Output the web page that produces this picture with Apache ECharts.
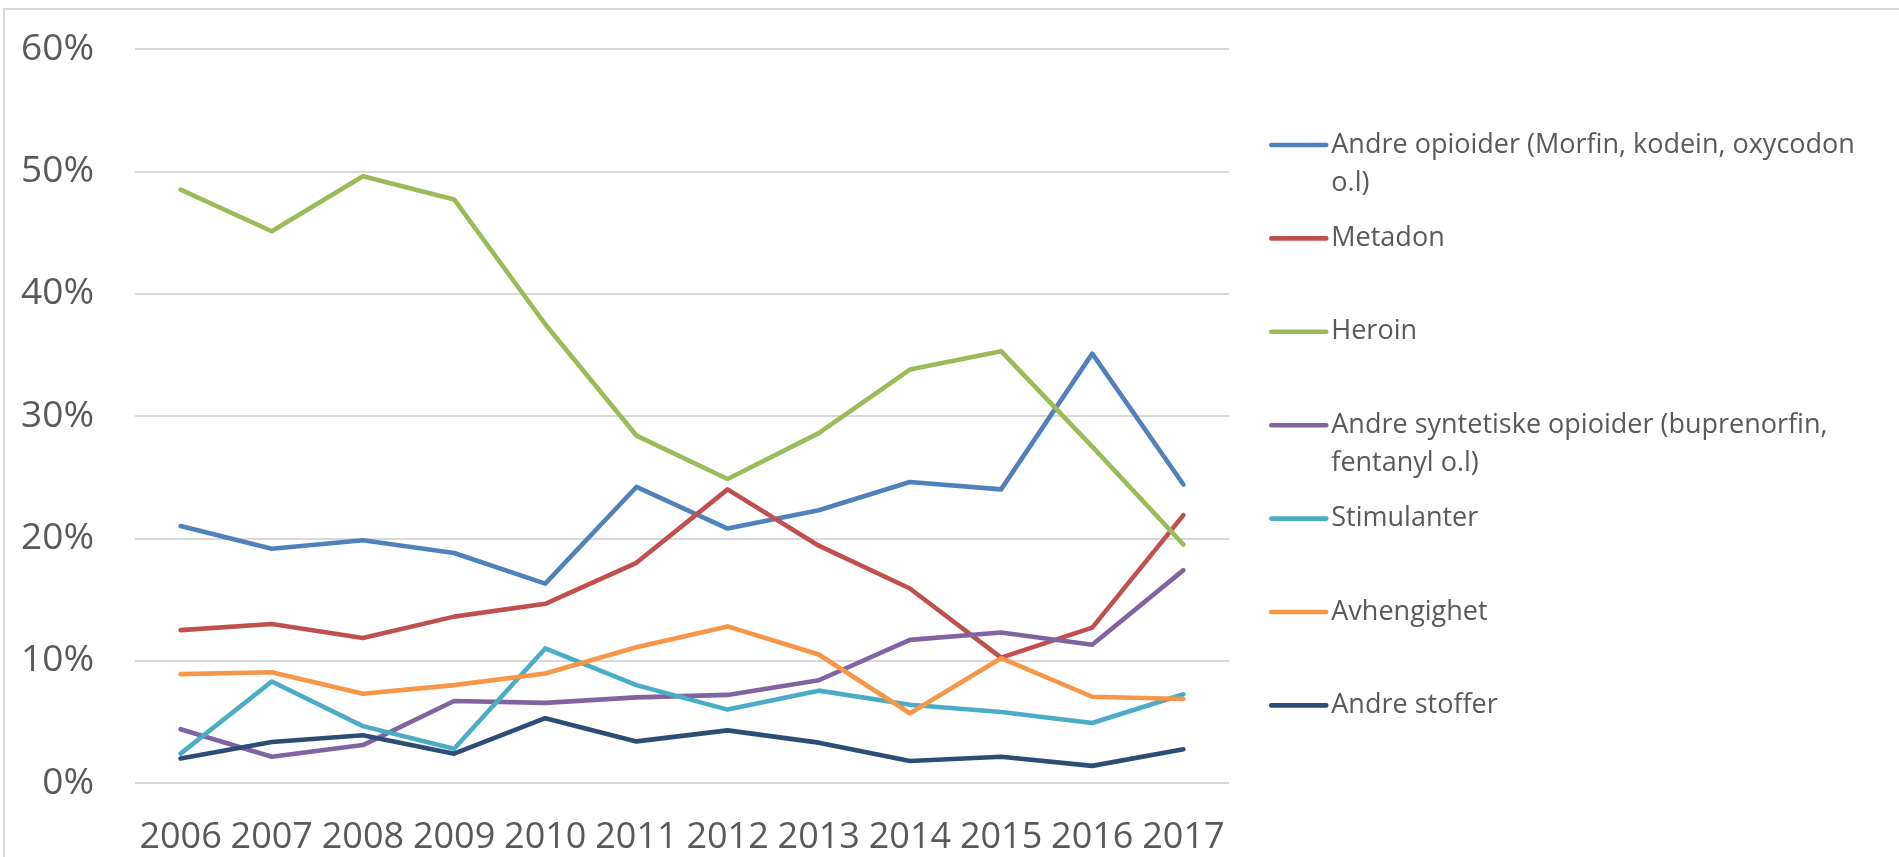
<!DOCTYPE html>
<html>
<head>
<meta charset="utf-8">
<script src="https://cdn.jsdelivr.net/npm/echarts@6/dist/echarts.min.js"></script>
<style>
html,body{margin:0;padding:0;background:#fff;}
#chart{width:1899px;height:857px;}
</style>
</head>
<body>
<div id="chart"></div>
<script>
const years = ['2006','2007','2008','2009','2010','2011','2012','2013','2014','2015','2016','2017'];
const yTicks = [0, 10, 20, 30, 40, 50, 60];

const seriesNames = [
  'Andre opioider (Morfin, kodein, oxycodon o.l)',
  'Metadon',
  'Heroin',
  'Andre syntetiske opioider (buprenorfin, fentanyl o.l)',
  'Stimulanter',
  'Avhengighet',
  'Andre stoffer'
];
const legendLabels = [
  'Andre opioider (Morfin, kodein, oxycodon\no.l)',
  'Metadon',
  'Heroin',
  'Andre syntetiske opioider (buprenorfin,\nfentanyl o.l)',
  'Stimulanter',
  'Avhengighet',
  'Andre stoffer'
];

const andreOpioider   = [21.0, 19.15, 19.85, 18.8, 16.3, 24.2, 20.8, 22.3, 24.6, 24.0, 35.1, 24.4];
const metadon         = [12.5, 13.0, 11.85, 13.6, 14.65, 18.0, 24.0, 19.4, 15.9, 10.25, 12.7, 21.9];
const heroin          = [48.5, 45.1, 49.6, 47.7, 37.5, 28.4, 24.85, 28.6, 33.8, 35.3, 27.5, 19.5];
const andreSyntetiske = [4.4, 2.15, 3.1, 6.7, 6.55, 7.0, 7.2, 8.4, 11.7, 12.3, 11.3, 17.4];
const stimulanter     = [2.4, 8.3, 4.65, 2.8, 11.0, 8.0, 6.0, 7.55, 6.4, 5.8, 4.9, 7.25];
const avhengighet     = [8.9, 9.05, 7.3, 8.0, 8.95, 11.1, 12.8, 10.5, 5.7, 10.2, 7.05, 6.87];
const andreStoffer    = [2.0, 3.35, 3.9, 2.4, 5.3, 3.4, 4.3, 3.3, 1.8, 2.15, 1.4, 2.75];

const allValues = [andreOpioider, metadon, heroin, andreSyntetiske, stimulanter, avhengighet, andreStoffer];
const colors = ['#4F81BD', '#C0504D', '#9BBB59', '#8064A2', '#4BACC6', '#F79646', '#2C4D75'];

const FONT = '"Open Sans", "Noto Sans", sans-serif';
const TXT = '#595959';

const chart = echarts.init(document.getElementById('chart'), null, {renderer: 'canvas'});

const series = seriesNames.map((name, i) => ({
  name: name,
  type: 'line',
  data: allValues[i],
  symbol: 'none',
  smooth: false,
  color: colors[i],
  lineStyle: {width: 4.6, color: colors[i], cap: 'round', join: 'round'},
  emphasis: {disabled: true},
  animation: false
}));

chart.setOption({
  animation: false,
  backgroundColor: '#ffffff',
  graphic: [{
    type: 'rect',
    shape: {x: 4, y: 9, width: 2000, height: 1000},
    style: {fill: 'none', stroke: '#D9D9D9', lineWidth: 2},
    silent: true,
    z: -10
  }],
  grid: {left: 135, right: 670, top: 49, bottom: 74, containLabel: false},
  xAxis: {
    type: 'category',
    data: years,
    boundaryGap: true,
    axisLine: {show: false},
    axisTick: {show: false},
    axisLabel: {color: TXT, fontFamily: FONT, fontSize: 36, margin: 37, interval: 0}
  },
  yAxis: {
    type: 'value',
    min: yTicks[0],
    max: yTicks[yTicks.length - 1],
    interval: 10,
    axisLine: {show: false},
    axisTick: {show: false},
    splitLine: {lineStyle: {color: '#D9D9D9', width: 2}},
    axisLabel: {color: TXT, fontFamily: FONT, fontSize: 37, margin: 41, formatter: '{value}%'}
  },
  legend: {
    orient: 'vertical',
    left: 1269,
    top: 88,
    padding: 0,
    itemGap: -20.6,
    itemWidth: 55,
    itemHeight: 14,
    selectedMode: false,
    data: seriesNames,
    formatter: function (name) {
      const lbl = legendLabels[seriesNames.indexOf(name)];
      return lbl.indexOf('\n') >= 0 ? '\n' + lbl : '\n' + lbl + '\n';
    },
    textStyle: {color: TXT, fontFamily: FONT, fontSize: 27, lineHeight: 38},
    itemStyle: {opacity: 0},
    lineStyle: {width: 4.6, cap: 'round'}
  },
  series: series
});
</script>
</body>
</html>
